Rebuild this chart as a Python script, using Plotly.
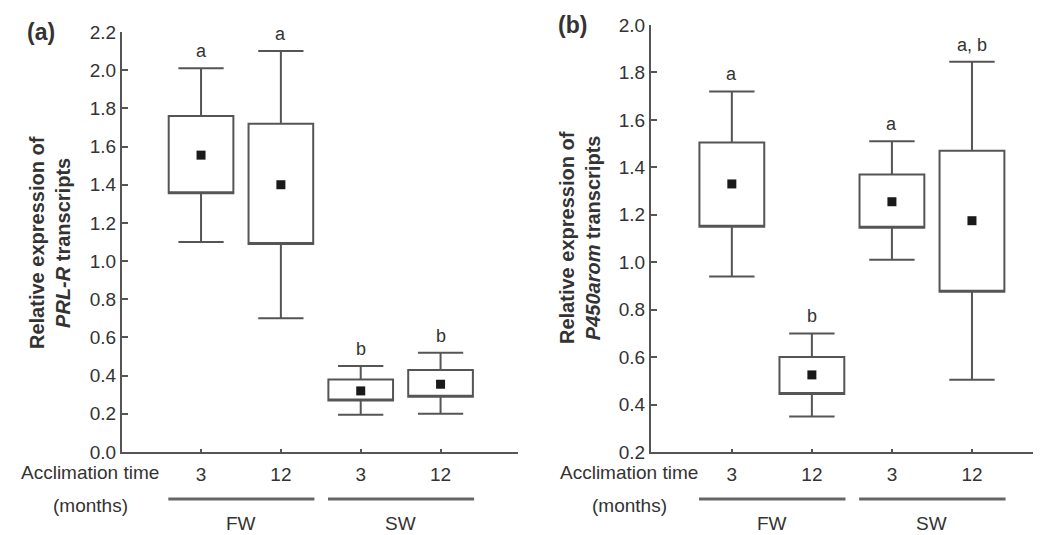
import plotly.graph_objects as go

# ---- data ----
time_labels = ["3", "12", "3", "12"]
groups = ["FW", "SW"]

a_upper = [2.01, 2.10, 0.45, 0.52]
a_q3 = [1.76, 1.72, 0.38, 0.43]
a_q1 = [1.355, 1.09, 0.27, 0.29]
a_lower = [1.10, 0.70, 0.195, 0.20]
a_mean = [1.555, 1.40, 0.32, 0.355]
a_letters = ["a", "a", "b", "b"]

b_upper = [1.72, 0.70, 1.51, 1.845]
b_q3 = [1.505, 0.60, 1.37, 1.47]
b_q1 = [1.15, 0.445, 1.145, 0.875]
b_lower = [0.94, 0.35, 1.01, 0.505]
b_mean = [1.33, 0.525, 1.255, 1.175]
b_letters = ["a", "b", "a", "a, b"]

W, H = 1041, 535
OFF = 8  # page body margin compensation
FONT = "Liberation Sans, Arial, Helvetica, sans-serif"
TXT = "#333333"
LINE = "#555555"


def px(x):
    return (x - OFF) / W


def py(y):
    return (H - (y - OFF)) / H


fig = go.Figure()
pos = list(range(len(time_labels)))

panels = [
    dict(xa="x", ya="y", upper=a_upper, q3=a_q3, q1=a_q1, lower=a_lower, mean=a_mean, letters=a_letters),
    dict(xa="x2", ya="y2", upper=b_upper, q3=b_q3, q1=b_q1, lower=b_lower, mean=b_mean, letters=b_letters),
]

for p in panels:
    fig.add_trace(go.Box(
        x=pos, q1=p["q1"], median=p["q1"], q3=p["q3"],
        lowerfence=p["lower"], upperfence=p["upper"],
        width=0.81, whiskerwidth=0.7, boxpoints=False,
        fillcolor="white", line=dict(color=LINE, width=2),
        xaxis=p["xa"], yaxis=p["ya"], showlegend=False, hoverinfo="skip",
    ))
    fig.add_trace(go.Scatter(
        x=pos, y=p["mean"], mode="markers",
        marker=dict(symbol="square", size=9, color="#1a1a1a"),
        xaxis=p["xa"], yaxis=p["ya"], showlegend=False, hoverinfo="skip",
    ))
    for i, (u, t) in enumerate(zip(p["upper"], p["letters"])):
        fig.add_annotation(x=i, y=u, xref=p["xa"], yref=p["ya"], text=t,
                           showarrow=False, xanchor="center", yanchor="middle", yshift=17,
                           font=dict(family=FONT, size=18, color=TXT))
    for g, name in enumerate(groups):
        fig.add_shape(type="line", xref=p["xa"], yref="paper",
                      x0=2 * g - 0.41, x1=2 * g + 1.42, y0=py(499), y1=py(499),
                      line=dict(color="#666666", width=3))
        fig.add_annotation(x=2 * g + 0.5, xref=p["xa"], y=py(523), yref="paper",
                           text=name, showarrow=False, xanchor="center", yanchor="middle",
                           font=dict(family=FONT, size=19, color=TXT))

axis_common = dict(showgrid=False, zeroline=False, showline=True,
                   linecolor=LINE, linewidth=2, ticks="inside",
                   tickcolor=LINE, tickwidth=2, automargin=False,
                   tickfont=dict(family=FONT, size=19, color=TXT))

fig.update_layout(
    width=W, height=H,
    margin=dict(l=0, r=0, t=0, b=0, pad=0, autoexpand=False),
    showlegend=False,
    plot_bgcolor="white", paper_bgcolor="white",
    xaxis=dict(domain=[px(122), px(518)], range=[-0.99, 3.97],
               tickvals=pos, ticktext=time_labels, ticklen=3,
               ticklabelstandoff=4, anchor="y", **axis_common),
    yaxis=dict(domain=[py(452), py(32)], range=[0, 2.2],
               dtick=0.2, tickformat=".1f", ticklen=6, anchor="x", **axis_common),
    xaxis2=dict(domain=[px(651), px(1040)], range=[-1.01, 3.85],
                tickvals=pos, ticktext=time_labels, ticklen=3,
                ticklabelstandoff=4, anchor="y2", **axis_common),
    yaxis2=dict(domain=[py(452), py(25)], range=[0.2, 2.0],
                dtick=0.2, tickformat=".1f", ticklen=6, anchor="x2", **axis_common),
)

for cx in [90, 629]:
    fig.add_annotation(x=px(cx), y=py(472), xref="paper", yref="paper",
                       text="Acclimation time", showarrow=False,
                       xanchor="center", yanchor="middle",
                       font=dict(family=FONT, size=19, color=TXT))
    fig.add_annotation(x=px(cx), y=py(505), xref="paper", yref="paper",
                       text="(months)", showarrow=False,
                       xanchor="center", yanchor="middle",
                       font=dict(family=FONT, size=19, color=TXT))

fig.add_annotation(x=px(50), y=py(243), xref="paper", yref="paper",
                   text="<b>Relative expression of<br><i>PRL-R</i> transcripts</b>",
                   textangle=-90, showarrow=False, xanchor="center", yanchor="middle",
                   font=dict(family=FONT, size=20, color=TXT))
fig.add_annotation(x=px(580), y=py(238), xref="paper", yref="paper",
                   text="<b>Relative expression of<br><i>P450arom</i> transcripts</b>",
                   textangle=-90, showarrow=False, xanchor="center", yanchor="middle",
                   font=dict(family=FONT, size=20, color=TXT))

fig.add_annotation(x=px(41), y=py(32), xref="paper", yref="paper",
                   text="<b>(a)</b>", showarrow=False, xanchor="center", yanchor="middle",
                   font=dict(family=FONT, size=23, color=TXT))
fig.add_annotation(x=px(572), y=py(25), xref="paper", yref="paper",
                   text="<b>(b)</b>", showarrow=False, xanchor="center", yanchor="middle",
                   font=dict(family=FONT, size=23, color=TXT))

fig.write_html("out.html")
